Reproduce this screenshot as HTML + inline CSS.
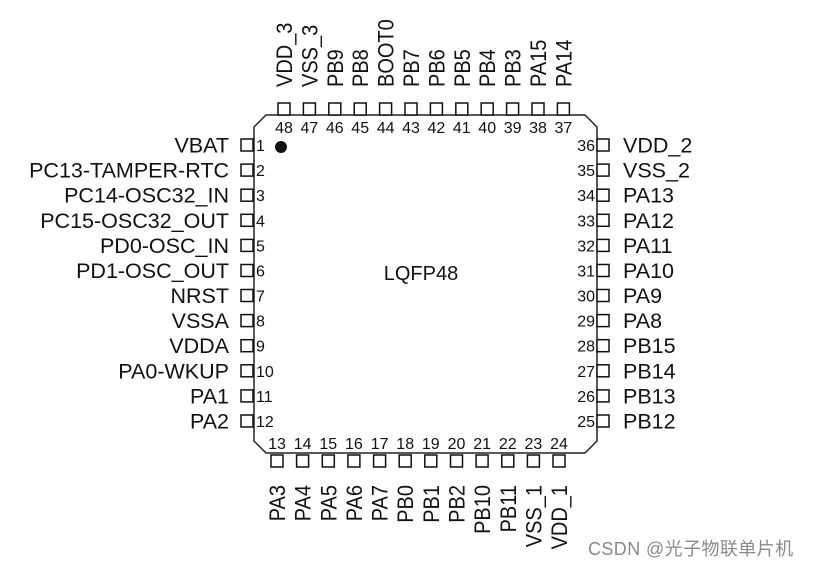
<!DOCTYPE html>
<html><head><meta charset="utf-8"><style>
html,body{margin:0;padding:0;background:#fff;}
svg{display:block;}
.l{font-family:"Liberation Sans",Arial,sans-serif;font-size:20px;fill:#111;}
.h{font-family:"Liberation Sans",Arial,sans-serif;font-size:21.5px;fill:#111;}
.n{font-family:"Liberation Sans",Arial,sans-serif;font-size:16px;fill:#111;}
.w{font-family:"Liberation Sans","Noto Sans CJK SC",sans-serif;font-size:18px;fill:#8a8a8a;letter-spacing:0.4px;}
</style></head><body>
<svg width="814" height="566" viewBox="0 0 814 566" xmlns="http://www.w3.org/2000/svg">
<polygon points="266,115 585,115 597,127 597,441 585,453 266,453 254,441 254,127" fill="none" stroke="#222" stroke-width="1.5"/>
<circle cx="281" cy="147" r="6" fill="#111"/>
<text class="l" x="421" y="280" text-anchor="middle">LQFP48</text>
<g fill="#fff" stroke="#111" stroke-width="1.5">
<rect x="278" y="103" width="12" height="12"/><rect x="303.4" y="103" width="12" height="12"/><rect x="328.8" y="103" width="12" height="12"/><rect x="354.2" y="103" width="12" height="12"/><rect x="379.6" y="103" width="12" height="12"/><rect x="405" y="103" width="12" height="12"/><rect x="430.4" y="103" width="12" height="12"/><rect x="455.8" y="103" width="12" height="12"/><rect x="481.2" y="103" width="12" height="12"/><rect x="506.6" y="103" width="12" height="12"/><rect x="532" y="103" width="12" height="12"/><rect x="557.4" y="103" width="12" height="12"/>
<rect x="271" y="455" width="12" height="12"/><rect x="296.6" y="455" width="12" height="12"/><rect x="322.3" y="455" width="12" height="12"/><rect x="347.9" y="455" width="12" height="12"/><rect x="373.6" y="455" width="12" height="12"/><rect x="399.2" y="455" width="12" height="12"/><rect x="424.8" y="455" width="12" height="12"/><rect x="450.5" y="455" width="12" height="12"/><rect x="476.1" y="455" width="12" height="12"/><rect x="501.8" y="455" width="12" height="12"/><rect x="527.4" y="455" width="12" height="12"/><rect x="553" y="455" width="12" height="12"/>
<rect x="241" y="139" width="12" height="12"/><rect x="241" y="164.1" width="12" height="12"/><rect x="241" y="189.2" width="12" height="12"/><rect x="241" y="214.3" width="12" height="12"/><rect x="241" y="239.4" width="12" height="12"/><rect x="241" y="264.5" width="12" height="12"/><rect x="241" y="289.5" width="12" height="12"/><rect x="241" y="314.6" width="12" height="12"/><rect x="241" y="339.7" width="12" height="12"/><rect x="241" y="364.8" width="12" height="12"/><rect x="241" y="389.9" width="12" height="12"/><rect x="241" y="415" width="12" height="12"/>
<rect x="597" y="139" width="12" height="12"/><rect x="597" y="164.1" width="12" height="12"/><rect x="597" y="189.2" width="12" height="12"/><rect x="597" y="214.3" width="12" height="12"/><rect x="597" y="239.4" width="12" height="12"/><rect x="597" y="264.5" width="12" height="12"/><rect x="597" y="289.5" width="12" height="12"/><rect x="597" y="314.6" width="12" height="12"/><rect x="597" y="339.7" width="12" height="12"/><rect x="597" y="364.8" width="12" height="12"/><rect x="597" y="389.9" width="12" height="12"/><rect x="597" y="415" width="12" height="12"/>
</g>
<g class="n" text-anchor="middle">
<text x="284" y="133">48</text><text x="309.4" y="133">47</text><text x="334.8" y="133">46</text><text x="360.2" y="133">45</text><text x="385.6" y="133">44</text><text x="411" y="133">43</text><text x="436.4" y="133">42</text><text x="461.8" y="133">41</text><text x="487.2" y="133">40</text><text x="512.6" y="133">39</text><text x="538" y="133">38</text><text x="563.4" y="133">37</text>
<text x="277" y="449">13</text><text x="302.6" y="449">14</text><text x="328.3" y="449">15</text><text x="353.9" y="449">16</text><text x="379.6" y="449">17</text><text x="405.2" y="449">18</text><text x="430.8" y="449">19</text><text x="456.5" y="449">20</text><text x="482.1" y="449">21</text><text x="507.8" y="449">22</text><text x="533.4" y="449">23</text><text x="559" y="449">24</text>
</g>
<g class="n">
<text x="256" y="151">1</text><text x="256" y="176.1">2</text><text x="256" y="201.2">3</text><text x="256" y="226.3">4</text><text x="256" y="251.4">5</text><text x="256" y="276.5">6</text><text x="256" y="301.5">7</text><text x="256" y="326.6">8</text><text x="256" y="351.7">9</text><text x="256" y="376.8">10</text><text x="256" y="401.9">11</text><text x="256" y="427">12</text>
</g>
<g class="n" text-anchor="end">
<text x="595" y="151">36</text><text x="595" y="176.1">35</text><text x="595" y="201.2">34</text><text x="595" y="226.3">33</text><text x="595" y="251.4">32</text><text x="595" y="276.5">31</text><text x="595" y="301.5">30</text><text x="595" y="326.6">29</text><text x="595" y="351.7">28</text><text x="595" y="376.8">27</text><text x="595" y="401.9">26</text><text x="595" y="427">25</text>
</g>
<g class="h" text-anchor="end">
<text x="229" y="152.5">VBAT</text><text x="229" y="177.6">PC13-TAMPER-RTC</text><text x="229" y="202.7">PC14-OSC32_IN</text><text x="229" y="227.8">PC15-OSC32_OUT</text><text x="229" y="252.9">PD0-OSC_IN</text><text x="229" y="278">PD1-OSC_OUT</text><text x="229" y="303">NRST</text><text x="229" y="328.1">VSSA</text><text x="229" y="353.2">VDDA</text><text x="229" y="378.3">PA0-WKUP</text><text x="229" y="403.4">PA1</text><text x="229" y="428.5">PA2</text>
</g>
<g class="h">
<text x="623" y="152.5">VDD_2</text><text x="623" y="177.6">VSS_2</text><text x="623" y="202.7">PA13</text><text x="623" y="227.8">PA12</text><text x="623" y="252.9">PA11</text><text x="623" y="278">PA10</text><text x="623" y="303">PA9</text><text x="623" y="328.1">PA8</text><text x="623" y="353.2">PB15</text><text x="623" y="378.3">PB14</text><text x="623" y="403.4">PB13</text><text x="623" y="428.5">PB12</text>
</g>
<g class="l">
<text transform="translate(292,87) rotate(-90) scale(1,1.12)">VDD_3</text>
<text transform="translate(317.4,87) rotate(-90) scale(1,1.12)">VSS_3</text>
<text transform="translate(342.8,87) rotate(-90) scale(1,1.12)">PB9</text>
<text transform="translate(368.2,87) rotate(-90) scale(1,1.12)">PB8</text>
<text transform="translate(393.6,87) rotate(-90) scale(1,1.12)">BOOT0</text>
<text transform="translate(419,87) rotate(-90) scale(1,1.12)">PB7</text>
<text transform="translate(444.4,87) rotate(-90) scale(1,1.12)">PB6</text>
<text transform="translate(469.8,87) rotate(-90) scale(1,1.12)">PB5</text>
<text transform="translate(495.2,87) rotate(-90) scale(1,1.12)">PB4</text>
<text transform="translate(520.6,87) rotate(-90) scale(1,1.12)">PB3</text>
<text transform="translate(546,87) rotate(-90) scale(1,1.12)">PA15</text>
<text transform="translate(571.4,87) rotate(-90) scale(1,1.12)">PA14</text>
</g>
<g class="l" text-anchor="end">
<text transform="translate(285,485) rotate(-90) scale(1,1.12)">PA3</text>
<text transform="translate(310.6,485) rotate(-90) scale(1,1.12)">PA4</text>
<text transform="translate(336.3,485) rotate(-90) scale(1,1.12)">PA5</text>
<text transform="translate(361.9,485) rotate(-90) scale(1,1.12)">PA6</text>
<text transform="translate(387.6,485) rotate(-90) scale(1,1.12)">PA7</text>
<text transform="translate(413.2,485) rotate(-90) scale(1,1.12)">PB0</text>
<text transform="translate(438.8,485) rotate(-90) scale(1,1.12)">PB1</text>
<text transform="translate(464.5,485) rotate(-90) scale(1,1.12)">PB2</text>
<text transform="translate(490.1,485) rotate(-90) scale(1,1.12)">PB10</text>
<text transform="translate(515.8,485) rotate(-90) scale(1,1.12)">PB11</text>
<text transform="translate(541.4,485) rotate(-90) scale(1,1.12)">VSS_1</text>
<text transform="translate(567,485) rotate(-90) scale(1,1.12)">VDD_1</text>
</g>
<text class="w" x="588" y="555">CSDN @光子物联单片机</text>
</svg>
</body></html>
